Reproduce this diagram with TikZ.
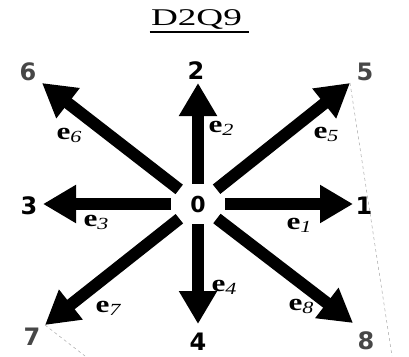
\documentclass[tikz,border=0pt]{standalone}
\usepackage{fontspec}
\setmainfont{Liberation Serif}
\newfontfamily\numfont{DejaVu Sans}
\usetikzlibrary{arrows.meta,shapes.geometric}
\newcommand\evec[1]{{\bfseries e}\raisebox{-3pt}{\fontsize{17}{17}\selectfont\itshape #1}}
\begin{document}
\begin{tikzpicture}[x=1pt,y=-1pt,
  vec/.style={line width=12pt,-{Triangle[length=33pt,width=36pt]}},
  num/.style={font=\numfont\bfseries\fontsize{24}{24}\selectfont,inner sep=0pt},
  gnum/.style={num,text=black!72},
  elab/.style={font=\fontsize{24}{24}\selectfont,inner sep=0pt,xscale=1.3},
  guide/.style={gray!70,dashed,line width=0.5pt},
  uline/.style={line width=1.3pt}]
\useasboundingbox (0,0) rectangle (409,356);
% title
\node[font=\fontsize{24}{24}\selectfont,xscale=1.55,inner sep=0pt,anchor=base] (title) at (196.5,25) {D2Q9};
\draw[uline] ([xshift=-1pt,yshift=-7pt]title.base west) -- ([xshift=7pt,yshift=-7pt]title.base east);
% tips
\coordinate (t1) at (353,204);
\coordinate (t2) at (198,83);
\coordinate (t3) at (43,204);
\coordinate (t4) at (198,324);
\coordinate (t5) at (350,83);
\coordinate (t6) at (42,83);
\coordinate (t7) at (45,325);
\coordinate (t8) at (353,323);
\coordinate (g5) at (392,356);
\coordinate (g7) at (85,356);
% guides
\draw[guide] (t5) -- (g5);
\draw[guide] (t7) -- (g7);
% centre
\node[ellipse,minimum width=54pt,minimum height=40pt,inner sep=0pt,
      font=\numfont\bfseries\fontsize{22}{22}\selectfont] (o) at (198,204) {0};
\foreach \i in {1,...,8} \draw[vec] (o) -- (t\i);
% numbers
\node[num] (n1) at (364,206) {1};
\node[num] (n2) at (196,71) {2};
\node[num] (n3) at (29,206) {3};
\node[num] (n4) at (198,342) {4};
\node[gnum] (n5) at (365,72) {5};
\node[gnum] (n6) at (28,72) {6};
\node[gnum] (n7) at (32,337) {7};
\node[gnum] (n8) at (366,341) {8};
% vector labels
\node[elab] (e1) at (299,225) {\evec{1}};
\node[elab] (e2) at (221,128) {\evec{2}};
\node[elab] (e3) at (96,222) {\evec{3}};
\node[elab] (e4) at (224,287) {\evec{4}};
\node[elab] (e5) at (326,134) {\evec{5}};
\node[elab] (e6) at (69,135) {\evec{6}};
\node[elab] (e7) at (108,308) {\evec{7}};
\node[elab] (e8) at (301,306) {\evec{8}};
\end{tikzpicture}
\end{document}
